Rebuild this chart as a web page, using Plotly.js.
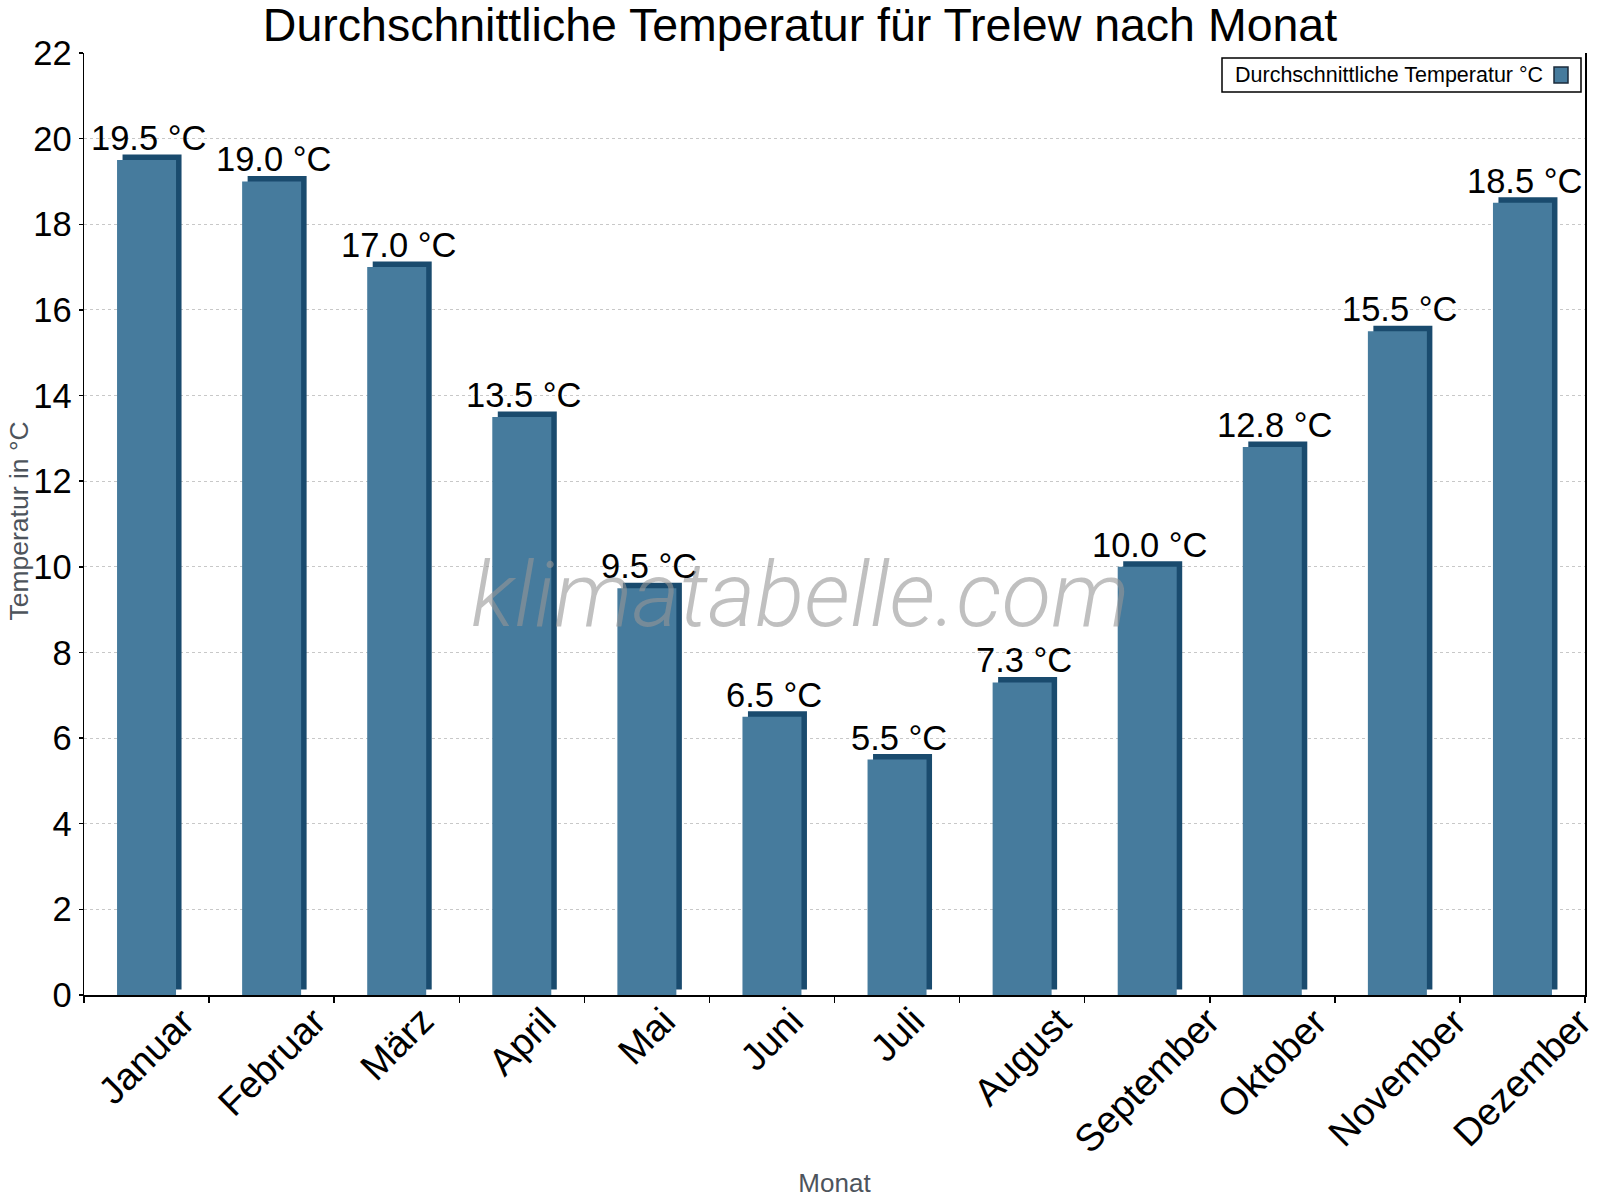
<!DOCTYPE html>
<html>
<head>
<meta charset="utf-8">
<script src="https://cdn.plot.ly/plotly-3.0.1.min.js"></script>
<style>html,body{margin:0;padding:0;background:#fff}#chart{width:1600px;height:1200px}</style>
</head>
<body>
<div id="chart"></div>
<script>
// ---- data ----
const months = ['Januar','Februar','März','April','Mai','Juni','Juli','August','September','Oktober','November','Dezember'];
const temperatures = [19.5, 19.0, 17.0, 13.5, 9.5, 6.5, 5.5, 7.3, 10.0, 12.8, 15.5, 18.5];
const valueLabels = temperatures.map(v => v.toFixed(1) + ' °C');
const seriesName = 'Durchschnittliche Temperatur °C';
const chartTitle = 'Durchschnittliche Temperatur für Trelew nach Monat';
const yTitle = 'Temperatur in °C';
const xTitle = 'Monat';
const watermark = 'klimatabelle.com';

// ---- geometry / style ----
const W = 1600, H = 1200;
const M = {l: 84, r: 15, t: 53, b: 205};
const plotW = W - M.l - M.r, plotH = H - M.t - M.b;
const yMax = 22;
const pxPerCat = plotW / months.length;
const pxPerUnit = plotH / yMax;
const depthPx = 5.5;
const barW = 59 / pxPerCat;
const dx = depthPx / pxPerCat;
const dz = depthPx / pxPerUnit;
const frontColor = '#467b9d';
const sideColor = '#1a4b6e';
const FONT = 'Liberation Sans, Arial, sans-serif';

const px2x = p => (p - M.l) / plotW;
const px2y = p => (H - M.b - p) / plotH;

const shadow = {
  type: 'bar', x: months, y: temperatures, base: dz,
  width: barW, offset: -barW / 2 + dx,
  marker: {color: sideColor, line: {width: 0}},
  hoverinfo: 'skip', showlegend: false
};
const front = {
  type: 'bar', x: months, y: temperatures,
  width: barW, offset: -barW / 2,
  marker: {color: frontColor, line: {width: 0}},
  name: seriesName, showlegend: false
};

const annotations = [];
months.forEach((m, i) => {
  annotations.push({
    x: m, y: temperatures[i], xref: 'x', yref: 'y',
    text: valueLabels[i], showarrow: false,
    xanchor: 'center', yanchor: 'bottom', xshift: 2, yshift: 1,
    font: {family: FONT, size: 34.5, color: '#000'}
  });
  annotations.push({
    x: m, y: 0, xref: 'x', yref: 'paper',
    text: m, showarrow: false, textangle: -45,
    xanchor: 'center', yanchor: 'top', yshift: -2,
    font: {family: FONT, size: 38, color: '#000'}
  });
});
// y-axis title
annotations.push({
  x: px2x(18.5), y: px2y(521), xref: 'paper', yref: 'paper',
  text: yTitle, showarrow: false, textangle: -90,
  xanchor: 'center', yanchor: 'middle',
  font: {family: FONT, size: 26.5, color: '#4d545c'}
});
// watermark
annotations.push({
  x: px2x(800), y: px2y(595), xref: 'paper', yref: 'paper',
  text: watermark, showarrow: false, xanchor: 'center', yanchor: 'middle',
  font: {family: 'Roboto, sans-serif', size: 91, style: 'italic', weight: 300, color: 'rgba(150,150,150,0.6)'}
});
// legend text
annotations.push({
  x: px2x(1233), y: px2y(75), xref: 'paper', yref: 'paper',
  text: seriesName, showarrow: false, xanchor: 'left', yanchor: 'middle',
  font: {family: FONT, size: 21.5, color: '#000'}
});

const shapes = [
  {type: 'rect', xref: 'paper', yref: 'paper', x0: px2x(1222), x1: px2x(1581), y0: px2y(92), y1: px2y(58),
   line: {color: '#000', width: 1.5}, fillcolor: '#fff', layer: 'above'},
  {type: 'rect', xref: 'paper', yref: 'paper', x0: px2x(1554), x1: px2x(1568), y0: px2y(83), y1: px2y(67),
   line: {color: '#1b2b3b', width: 1.5}, fillcolor: frontColor, layer: 'above'}
];

const layout = {
  width: W, height: H,
  margin: M,
  paper_bgcolor: '#fff', plot_bgcolor: '#fff',
  barmode: 'overlay',
  showlegend: false,
  font: {family: FONT, color: '#000'},
  title: {text: chartTitle, x: 0.5, xref: 'container', xanchor: 'center',
          y: 1, yref: 'container', yanchor: 'top', pad: {t: 8},
          font: {family: FONT, size: 46.5, color: '#000'}},
  xaxis: {
    type: 'category', range: [-0.5, months.length - 0.5],
    tickson: 'boundaries', ticks: 'outside', ticklen: 6, tickcolor: '#000', tickwidth: 1.5,
    showticklabels: false, showline: true, linecolor: '#000', linewidth: 1.5,
    showgrid: false, zeroline: false, fixedrange: true,
    title: {text: xTitle, standoff: 178, font: {family: FONT, size: 26, color: '#4d545c'}}
  },
  yaxis: {
    range: [0, yMax], tick0: 0, dtick: 2,
    ticks: 'outside', ticklen: 4, tickcolor: '#000', tickwidth: 1.5,
    showline: true, mirror: true, linecolor: '#000', linewidth: 1.5,
    showgrid: true, gridcolor: '#c8c8c8', griddash: 'dot', gridwidth: 1,
    zeroline: false, fixedrange: true,
    tickfont: {family: FONT, size: 34.5, color: '#000'}
  },
  annotations: annotations,
  shapes: shapes
};

Plotly.newPlot('chart', [shadow, front], layout, {displayModeBar: false, staticPlot: true});
</script>
</body>
</html>
